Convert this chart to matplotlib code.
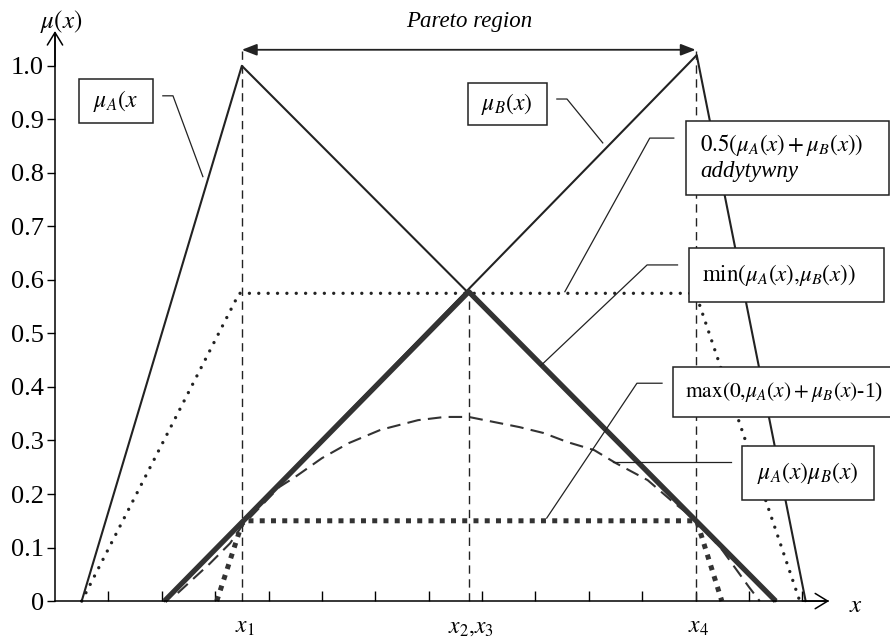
import numpy as np
import matplotlib
matplotlib.use('Agg')
from matplotlib import pyplot as plt
from matplotlib.patches import Rectangle

plt.rcParams['font.family'] = ['Liberation Serif', 'DejaVu Serif']
plt.rcParams['mathtext.fontset'] = 'stix'

# values (x in units of the small x ticks)
mu_a_x = [0.5, 3.5, 13.5]
mu_a_y = [0.0, 1.0, 0.0]
mu_b_x = [2.05, 12.02, 14.06]
mu_b_y = [0.0, 1.02, 0.0]

min_x = [2.05, 7.75, 13.5]
min_y = [0.0, 0.578, 0.0]

avg_x = [0.5, 3.45, 12.0, 13.95]
avg_y = [0.0, 0.575, 0.575, 0.0]

prod_x = [2.3, 2.9, 3.28, 3.5, 4.2, 4.5, 5.0, 5.5, 6.1, 6.8, 7.3, 7.75,
          8.7, 9.15, 9.6, 10.1, 10.5, 11.1, 11.6, 12.0, 12.5, 13.0, 13.2]
prod_y = [0.015, 0.07, 0.108, 0.14, 0.213, 0.232, 0.267, 0.295, 0.32, 0.338,
          0.344, 0.344, 0.325, 0.314, 0.297, 0.282, 0.258, 0.226, 0.183,
          0.152, 0.095, 0.026, 0.0]

luk_x = [3.03, 3.52, 12.02, 12.49]
luk_y = [0.0, 0.15, 0.15, 0.0]

y_ticks = [0.0, 0.1, 0.2, 0.3, 0.4, 0.5, 0.6, 0.7, 0.8, 0.9, 1.0]
y_labels = ['0', '0.1', '0.2', '0.3', '0.4', '0.5', '0.6', '0.7', '0.8', '0.9', '1.0']
x_ticks = list(range(1, 15))

x_marks = [3.5, 7.75, 12.0]
x_mark_labels = [r'$x_1$', r'$x_2{,}x_3$', r'$x_4$']

fig = plt.figure(figsize=(8.9, 6.38), dpi=100)
ax = fig.add_axes([0, 0, 1, 1])
ax.set_xlim(-1.03, 15.64)
ax.set_ylim(-0.069, 1.123)

# axes drawn through the origin
for s in ['top', 'right']:
    ax.spines[s].set_visible(False)
ax.spines['left'].set_position(('data', 0))
ax.spines['bottom'].set_position(('data', 0))
ax.spines['left'].set_bounds(0, 1.06)
ax.spines['bottom'].set_bounds(0, 14.48)
ax.spines['left'].set_linewidth(1.1)
ax.spines['bottom'].set_linewidth(1.1)
ax.set_yticks(y_ticks)
ax.set_yticklabels(y_labels, fontsize=19)
ax.tick_params(axis='y', direction='out', length=6, width=1, pad=2)
ax.set_xticks(x_ticks)
ax.set_xticklabels([])
ax.tick_params(axis='x', direction='in', length=7, width=1)

ax.annotate('', xy=(0, 1.065), xytext=(0, 1.0),
            arrowprops=dict(arrowstyle='->,head_length=0.9,head_width=0.55', lw=1.1,
                            shrinkA=0, shrinkB=0))
ax.annotate('', xy=(14.5, 0), xytext=(14.0, 0),
            arrowprops=dict(arrowstyle='->,head_length=0.9,head_width=0.55', lw=1.1,
                            shrinkA=0, shrinkB=0))
ax.text(0.11, 1.082, r'$\mu(x)$', fontsize=18, ha='center', va='center')
ax.text(15.0, -0.01, r'$x$', fontsize=18, ha='center', va='center')

# guide lines
ax.plot([3.5, 3.5], [0, 1.03], color='#222', lw=1, ls=(0, (6, 4)))
ax.plot([7.75, 7.75], [0, 0.575], color='#222', lw=1, ls=(0, (6, 4)))
ax.plot([12.0, 12.0], [0, 1.03], color='#222', lw=1, ls=(0, (6, 4)))
for xm, lab in zip(x_marks, x_mark_labels):
    ax.text(xm + 0.05, -0.05, lab, fontsize=17, ha='center', va='center')

ax.annotate('', xy=(3.5, 1.03), xytext=(12.0, 1.03),
            arrowprops=dict(arrowstyle='<|-|>,head_length=0.9,head_width=0.35',
                            lw=1.3, color='#222', shrinkA=0, shrinkB=0))
ax.text(7.75, 1.083, 'Pareto region', fontsize=16.5, style='italic',
        ha='center', va='center')

# membership curves
ax.plot(mu_a_x, mu_a_y, color='#222', lw=1.5)
ax.plot(mu_b_x, mu_b_y, color='#222', lw=1.5)
ax.plot(avg_x, avg_y, color='#222', lw=2.4, ls=(0, (0.01, 2.8)),
        dash_capstyle='round')
ax.plot(prod_x, prod_y, color='#333', lw=1.5, ls=(0, (6.5, 3.5)))
ax.plot(luk_x, luk_y, color='#333', lw=3.6, ls=(0, (1, 1.25)))
ax.plot(min_x, min_y, color='#333', lw=3.8, solid_capstyle='butt')

# labels in boxes with leader lines
boxes = [
    (0.45, 0.893, 1.385, 0.083),
    (7.73, 0.89, 1.48, 0.078),
    (11.82, 0.759, 3.8, 0.138),
    (11.87, 0.559, 3.65, 0.101),
    (11.57, 0.344, 4.2, 0.093),
    (12.87, 0.189, 2.47, 0.101),
]
for bx, by, bw, bh in boxes:
    ax.add_patch(Rectangle((bx, by), bw, bh, fc='white', ec='#222', lw=1.1, zorder=5))

leaders = [
    ([2.02, 2.21, 2.77], [0.944, 0.944, 0.793]),
    ([9.40, 9.59, 10.26], [0.938, 0.938, 0.856]),
    ([11.59, 11.14, 9.55], [0.865, 0.865, 0.578]),
    ([11.66, 11.09, 9.10], [0.628, 0.628, 0.44]),
    ([11.37, 10.90, 9.21], [0.407, 0.407, 0.155]),
    ([12.66, 10.45], [0.26, 0.26]),
]
for lx, ly in leaders:
    ax.plot(lx, ly, color='#222', lw=0.9)

ax.text(1.14, 0.935, r'$\mu_A(x$', fontsize=17, ha='center', va='center', zorder=6)
ax.text(8.47, 0.929, r'$\mu_B(x)$', fontsize=17, ha='center', va='center', zorder=6)
ax.text(12.08, 0.853, r'$0.5(\mu_A(x)+\mu_B(x))$', fontsize=16.5, ha='left',
        va='center', zorder=6)
ax.text(12.08, 0.802, 'addytywny', fontsize=16.5, style='italic', ha='left',
        va='center', zorder=6)
ax.text(12.12, 0.61, r'$\mathrm{min}(\mu_A(x){,}\mu_B(x))$', fontsize=16.5,
        ha='left', va='center', zorder=6)
ax.text(11.8, 0.39, r'$\mathrm{max}(0{,}\mu_A(x)+\mu_B(x)$-1)', fontsize=15.5,
        ha='left', va='center', zorder=6)
ax.text(13.15, 0.24, r'$\mu_A(x)\mu_B(x)$', fontsize=17, ha='left',
        va='center', zorder=6)

fig.savefig('out.png', dpi=100)
